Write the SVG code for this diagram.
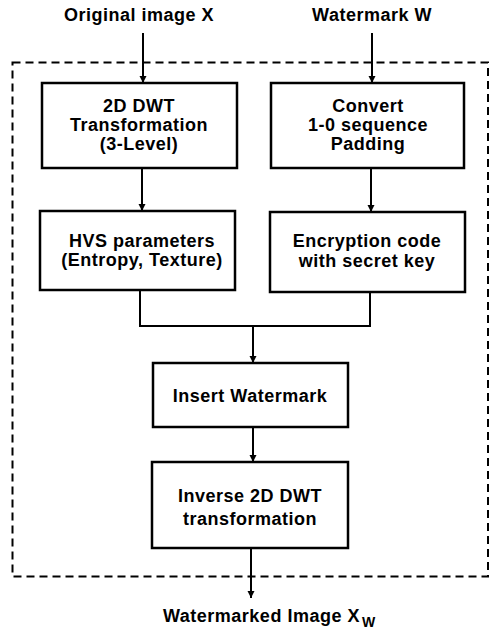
<svg xmlns="http://www.w3.org/2000/svg" width="489" height="630" viewBox="0 0 489 630">
<style>
.box{fill:#fff;stroke:#000;stroke-width:2.5}
.t{font-family:"Liberation Sans",Arial,sans-serif;font-weight:bold;font-size:18px;text-anchor:middle;fill:#000;letter-spacing:0.5px}
.c{fill:none;stroke:#000;stroke-width:2}
</style>
<defs>
<marker id="ah" markerWidth="8" markerHeight="8" refX="7" refY="4" orient="auto" markerUnits="userSpaceOnUse">
<path d="M0,0.5 L7,4 L0,7.5 z" fill="#000"/>
</marker>
</defs>
<rect x="0" y="0" width="489" height="630" fill="#fff"/>
<rect id="frame" x="12.5" y="62.5" width="475.5" height="514" fill="none" stroke="#000" stroke-width="2" stroke-dasharray="8,5"/>
<g id="connectors">
<line class="c" x1="143" y1="33" x2="143" y2="83" marker-end="url(#ah)"/>
<line class="c" x1="372" y1="33" x2="372" y2="83" marker-end="url(#ah)"/>
<line class="c" x1="142" y1="168" x2="142" y2="211" marker-end="url(#ah)"/>
<line class="c" x1="371" y1="168" x2="371" y2="212" marker-end="url(#ah)"/>
<polyline class="c" points="140,290 140,326 370,326 370,292"/>
<line class="c" x1="253" y1="326" x2="253" y2="363" marker-end="url(#ah)"/>
<line class="c" x1="253" y1="427" x2="253" y2="462" marker-end="url(#ah)"/>
<line class="c" x1="251" y1="548" x2="251" y2="598" marker-end="url(#ah)"/>
</g>
<g id="label-x"><text class="t" x="139" y="21">Original image X</text></g>
<g id="label-w"><text class="t" x="372" y="21">Watermark W</text></g>
<g id="dwt">
<rect class="box" x="42" y="83" width="195" height="85"/>
<text class="t" x="139" y="112">2D DWT</text>
<text class="t" x="139" y="131">Transformation</text>
<text class="t" x="139" y="150">(3-Level)</text>
</g>
<g id="convert">
<rect class="box" x="271" y="83" width="193" height="85"/>
<text class="t" x="368" y="112">Convert</text>
<text class="t" x="368" y="131">1-0 sequence</text>
<text class="t" x="368" y="150">Padding</text>
</g>
<g id="hvs">
<rect class="box" x="40" y="211" width="195" height="79"/>
<text class="t" x="142" y="247">HVS parameters</text>
<text class="t" x="142" y="266">(Entropy, Texture)</text>
</g>
<g id="encrypt">
<rect class="box" x="270" y="212" width="195" height="80"/>
<text class="t" x="367" y="247">Encryption code</text>
<text class="t" x="367" y="267">with secret key</text>
</g>
<g id="insert">
<rect class="box" x="153" y="363" width="195" height="64"/>
<text class="t" x="250" y="402">Insert Watermark</text>
</g>
<g id="inverse">
<rect class="box" x="152" y="462" width="196" height="86"/>
<text class="t" x="250" y="502">Inverse 2D DWT</text>
<text class="t" x="250" y="525">transformation</text>
</g>
<g id="label-out"><text class="t" x="163" y="622" style="text-anchor:start">Watermarked Image X<tspan font-size="14" dy="5" dx="2">W</tspan></text></g>
</svg>
